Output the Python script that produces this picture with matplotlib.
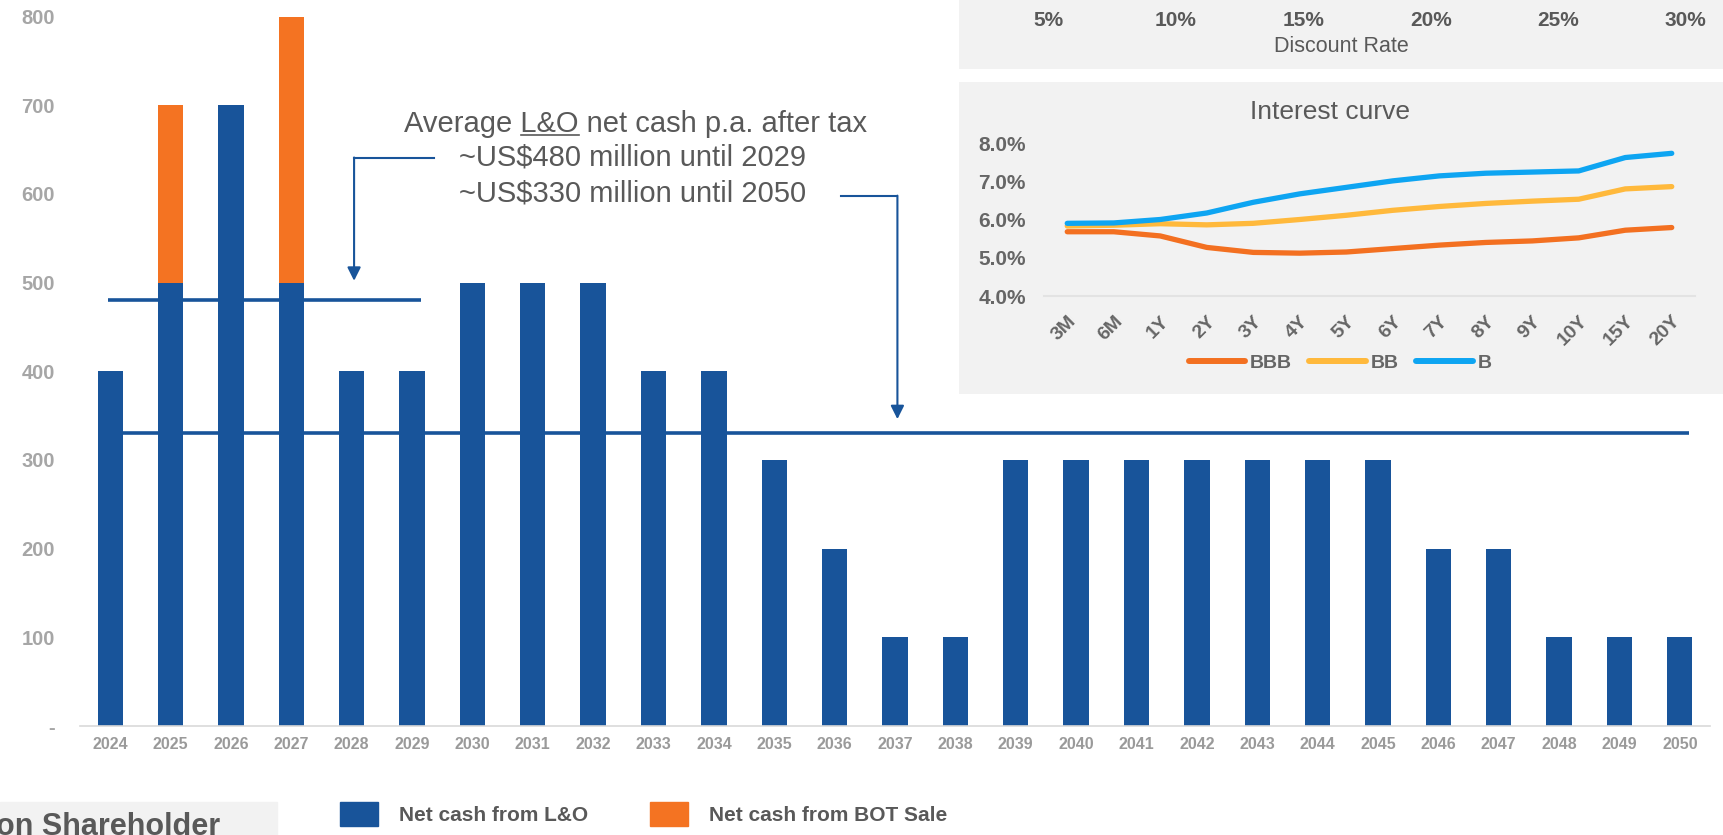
import matplotlib.pyplot as plt
from matplotlib.patches import Rectangle, Patch
from matplotlib.lines import Line2D

# --- main chart data (US$ million) ---
years = [2024, 2025, 2026, 2027, 2028, 2029, 2030, 2031, 2032, 2033, 2034, 2035, 2036, 2037,
         2038, 2039, 2040, 2041, 2042, 2043, 2044, 2045, 2046, 2047, 2048, 2049, 2050]
lo_cash = [400, 500, 700, 500, 400, 400, 500, 500, 500, 400, 400, 300, 200, 100,
           100, 300, 300, 300, 300, 300, 300, 300, 200, 200, 100, 100, 100]
bot_cash = [0, 200, 0, 300, 0, 0, 0, 0, 0, 0, 0, 0, 0, 0,
            0, 0, 0, 0, 0, 0, 0, 0, 0, 0, 0, 0, 0]
y_ticks = [0, 100, 200, 300, 400, 500, 600, 700, 800]

avg_values = [480, 330]
avg_until = [2029, 2050]
note_lines = ["Average L&O net cash p.a. after tax",
              "~US$480 million until 2029",
              "~US$330 million until 2050"]

# --- inset: discount rate axis (partly visible) ---
discount_rates = [5, 10, 15, 20, 25, 30]

# --- inset: interest curve (%) ---
tenors = ['3M', '6M', '1Y', '2Y', '3Y', '4Y', '5Y', '6Y', '7Y', '8Y', '9Y', '10Y', '15Y', '20Y']
bbb = [5.68, 5.68, 5.57, 5.27, 5.14, 5.12, 5.15, 5.24, 5.33, 5.40, 5.44, 5.52, 5.72, 5.79]
bb = [5.83, 5.85, 5.89, 5.86, 5.90, 6.00, 6.11, 6.24, 6.34, 6.42, 6.48, 6.53, 6.80, 6.86]
b = [5.90, 5.91, 6.00, 6.17, 6.45, 6.67, 6.84, 7.01, 7.14, 7.21, 7.24, 7.27, 7.62, 7.73]
curve_ticks = [4, 5, 6, 7, 8]

BLUE = '#18549A'
ORANGE = '#F47322'
GREY_TXT = '#595959'
ARIAL = ['Liberation Sans', 'DejaVu Sans']

W, H = 1724, 835
fig = plt.figure(figsize=(W / 100, H / 100), dpi=100)


def fbox(x0, y0, x1, y1):
    # pixel box (top-left origin) -> figure fraction rect
    return [x0 / W, 1 - y1 / H, (x1 - x0) / W, (y1 - y0) / H]


# ---------------- main bar chart ----------------
ax = fig.add_axes(fbox(80, 16.5, 1710, 726))
x = list(range(len(years)))
ax.bar(x, lo_cash, width=0.42, color=BLUE, label='Net cash from L&O', zorder=2)
ax.bar(x, bot_cash, width=0.42, bottom=lo_cash, color=ORANGE,
       label='Net cash from BOT Sale', zorder=2)

for val, until in zip(avg_values, avg_until):
    ax.hlines(val, -0.04, years.index(until) + 0.15, color=BLUE, lw=2.6, zorder=3)

ax.set_xlim(-0.5, len(years) - 0.5)
ax.set_ylim(0, 800)
ax.set_xticks(x)
ax.set_xticklabels([str(y) for y in years], fontsize=11.5, fontweight='bold',
                   color='#9A9A9A', family=ARIAL)
ax.set_yticks(y_ticks)
ax.set_yticklabels(['-'] + [str(v) for v in y_ticks[1:]], fontsize=14.5,
                   fontweight='bold', color='#A6A6A6', family=ARIAL)
ax.tick_params(axis='both', length=0)
ax.tick_params(axis='y', pad=18)
ax.tick_params(axis='x', pad=8)
for s in ['top', 'right', 'left']:
    ax.spines[s].set_visible(False)
ax.spines['bottom'].set_color('#D9D9D9')
ax.spines['bottom'].set_linewidth(1.2)

# connector arrows from the note to the average lines
ax.plot([5.37, 4.04], [641, 641], color=BLUE, lw=1.5, zorder=3)
ax.annotate('', xy=(4.04, 502), xytext=(4.04, 641),
            arrowprops=dict(arrowstyle='-|>', color=BLUE, lw=1.5, mutation_scale=20,
                            shrinkA=0, shrinkB=0), zorder=3)
ax.plot([12.11, 13.04], [598, 598], color=BLUE, lw=1.5, zorder=3)
ax.annotate('', xy=(13.04, 346), xytext=(13.04, 598),
            arrowprops=dict(arrowstyle='-|>', color=BLUE, lw=1.5, mutation_scale=20,
                            shrinkA=0, shrinkB=0), zorder=3)

# note text
note_kw = dict(fontsize=21, color=GREY_TXT, family=ARIAL, va='baseline')
t0 = fig.text(636 / W, 1 - 132 / H, note_lines[0], ha='center', **note_kw)
fig.text(459 / W, 1 - 165 / H, note_lines[1], ha='left', **note_kw)
fig.text(459 / W, 1 - 202 / H, note_lines[2], ha='left', **note_kw)

# underline "L&O" in the first line
renderer = fig.canvas.get_renderer()
bb0 = t0.get_window_extent(renderer)
tmp1 = fig.text(0, 0, 'Average L&O', **note_kw)
tmp2 = fig.text(0, 0, 'L&O', **note_kw)
w1 = tmp1.get_window_extent(renderer).width
w2 = tmp2.get_window_extent(renderer).width
tmp1.remove()
tmp2.remove()
u_end = bb0.x0 + w1
u_start = u_end - w2
u_y = 1 - 135 / H
fig.add_artist(Line2D([u_start / W, u_end / W], [u_y, u_y], transform=fig.transFigure,
                      color=GREY_TXT, lw=1.2))

# legend of the main chart
fig.legend(handles=[Patch(color=BLUE), Patch(color=ORANGE)],
           labels=['Net cash from L&O', 'Net cash from BOT Sale'],
           loc='center left', bbox_to_anchor=(332 / W, 1 - 814 / H), ncol=2,
           frameon=False, handlelength=1.8, handleheight=1.45, handletextpad=1.0,
           columnspacing=3.0, borderaxespad=0,
           prop=dict(family=ARIAL, weight='bold', size=15), labelcolor=GREY_TXT)

# cut-off box at bottom left
fig.add_artist(Rectangle((0, 0), 277 / W, 33 / H, transform=fig.transFigure,
                         color='#F2F2F2', zorder=1))
fig.text(-4 / W, 1 - 835 / H, 'on Shareholder', fontsize=22, fontweight='bold',
         color=GREY_TXT, family=ARIAL, va='baseline', ha='left', zorder=2)

# ---------------- inset: discount rate strip ----------------
ax_top = fig.add_axes(fbox(959, 0, 1724, 69), zorder=2)
ax_top.set_facecolor('#F2F2F2')
ax_top.set_xlim(1.5, 31.5)
ax_top.set_ylim(0, 69)
ax_top.set_xticks([])
ax_top.set_yticks([])
for s in ax_top.spines.values():
    s.set_visible(False)
for r in discount_rates:
    ax_top.text(r, 69 - 21, f'{r}%', ha='center', va='center', fontsize=15,
                fontweight='bold', color=GREY_TXT, family=ARIAL)
ax_top.text(0.5, 69 - 47, 'Discount Rate', transform=ax_top.get_yaxis_transform(),
            ha='center', va='center', fontsize=15.5, color=GREY_TXT, family=ARIAL)

# ---------------- inset: interest curve ----------------
ax_bg = fig.add_axes(fbox(959, 82, 1724, 394), zorder=2)
ax_bg.set_facecolor('#F2F2F2')
ax_bg.set_xticks([])
ax_bg.set_yticks([])
for s in ax_bg.spines.values():
    s.set_visible(False)

ax_c = fig.add_axes(fbox(1044, 143, 1695, 296), zorder=3)
ax_c.set_facecolor('none')
tx = list(range(len(tenors)))
curves = [(bbb, 'BBB', '#F37021'), (bb, 'BB', '#FFB93C'), (b, 'B', '#0EA5F2')]
for vals, name, col in curves:
    ax_c.plot(tx, vals, color=col, lw=3.8, solid_capstyle='round',
              solid_joinstyle='round', label=name)
ax_c.set_xlim(-0.5, len(tenors) - 0.5)
ax_c.set_ylim(4, 8)
ax_c.set_yticks(curve_ticks)
ax_c.set_yticklabels([f'{v:.1f}%' for v in curve_ticks], fontsize=15,
                     fontweight='bold', color='#666666', family=ARIAL)
ax_c.set_xticks(tx)
ax_c.set_xticklabels(tenors, rotation=45, ha='right', rotation_mode='anchor',
                     fontsize=14, fontweight='bold', color='#666666', family=ARIAL)
ax_c.tick_params(axis='both', length=0)
ax_c.tick_params(axis='y', pad=13)
ax_c.tick_params(axis='x', pad=12)
for s in ['top', 'right', 'left']:
    ax_c.spines[s].set_visible(False)
ax_c.spines['bottom'].set_color('#E3E3E3')
ax_c.spines['bottom'].set_linewidth(1.5)
ax_c.set_title('Interest curve', fontsize=19, color=GREY_TXT, family=ARIAL, pad=17,
               x=(1330 - 1044) / 651)
ax_c.legend(loc='center', bbox_to_anchor=(1340 / W, 1 - 363 / H),
            bbox_transform=fig.transFigure, ncol=3, frameon=False,
            handlelength=2.9, handletextpad=0.25, columnspacing=0.9,
            prop=dict(family=ARIAL, weight='bold', size=14), labelcolor='#666666')
for line in ax_c.get_legend().get_lines():
    line.set_linewidth(4.3)

fig.savefig('out.png', dpi=100)
